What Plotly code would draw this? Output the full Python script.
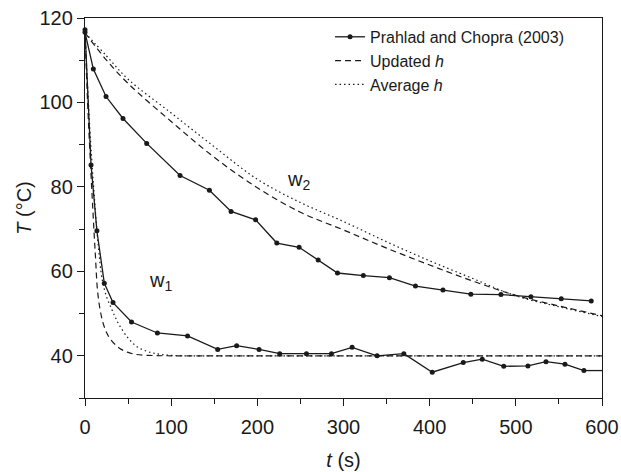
import plotly.graph_objects as go

# Experimental data (Prahlad and Chopra 2003)
t_w1 = [0, 7, 13.8, 22.4, 32.5, 54, 84, 119, 154, 176, 202, 226, 257, 286, 310, 339, 370, 403, 439, 461, 486, 514, 535, 557, 579]
T_w1 = [117.2, 85.2, 69.6, 57.2, 52.6, 48.0, 45.4, 44.7, 41.5, 42.4, 41.5, 40.5, 40.5, 40.5, 42.0, 40.0, 40.5, 36.1, 38.4, 39.2, 37.5, 37.6, 38.6, 38.0, 36.5]
t_w1_end = [579, 600]
T_w1_end = [36.5, 36.5]
t_w2 = [0, 9.7, 24.4, 44.1, 71.6, 110.3, 144.4, 169.5, 198, 222.6, 248.5, 270.6, 293, 323, 353.3, 383.5, 415.4, 447.8, 482.7, 517.5, 552.7, 587.5]
T_w2 = [116.6, 107.9, 101.4, 96.2, 90.3, 82.7, 79.2, 74.2, 72.2, 66.7, 65.7, 62.7, 59.6, 59.0, 58.5, 56.5, 55.6, 54.6, 54.5, 54.0, 53.5, 53.0]

# Updated h model curves
t_upd_w1 = [0, 3, 6, 9, 12, 15, 20, 25, 30, 40, 50, 60, 80, 100, 200, 300, 400, 500, 600]
T_upd_w1 = [116.5, 100, 87, 75, 64, 54.5, 48.5, 45.5, 43.8, 41.8, 40.8, 40.3, 40.05, 40, 40, 40, 40, 40, 40]
t_upd_w2 = [0, 25, 50, 100, 150, 200, 250, 300, 350, 400, 450, 500, 550, 600]
T_upd_w2 = [116.5, 110, 104.5, 95.5, 87, 79.8, 74, 69.8, 65.5, 61.5, 57.7, 54.3, 51.8, 49.5]

# Average h model curves
t_avg_w1 = [0, 5, 10, 15, 20, 25, 30, 35, 40, 50, 60, 70, 80, 100, 150, 200, 300, 400, 500, 600]
T_avg_w1 = [116.5, 96, 80, 67, 58, 54, 51.5, 49.2, 47.2, 44.2, 42.2, 41.2, 40.6, 40.1, 40, 40, 40, 40, 40, 40]
t_avg_w2 = [0, 25, 50, 100, 150, 200, 250, 300, 350, 400, 450, 500, 550, 600]
T_avg_w2 = [116.5, 111, 105.5, 97.5, 89.5, 81.8, 76.3, 71.8, 67, 62.5, 58.3, 54.2, 51.6, 49.3]

x_ticks = [0, 100, 200, 300, 400, 500, 600]
y_ticks = [40, 60, 80, 100, 120]

INK = "#1a1a1a"
FONT = "Liberation Sans, Arial, sans-serif"

fig = go.Figure()

exp_line = dict(color=INK, width=1.3)
fig.add_trace(go.Scatter(x=t_w1, y=T_w1, mode="lines+markers", name="Prahlad and Chopra (2003)",
                         legendgroup="exp", line=exp_line,
                         marker=dict(color=INK, size=5), cliponaxis=False))
fig.add_trace(go.Scatter(x=t_w1_end, y=T_w1_end, mode="lines", showlegend=False,
                         legendgroup="exp", line=exp_line, cliponaxis=False))
fig.add_trace(go.Scatter(x=t_w2, y=T_w2, mode="lines+markers", showlegend=False,
                         legendgroup="exp", line=exp_line,
                         marker=dict(color=INK, size=5), cliponaxis=False))
fig.add_trace(go.Scatter(x=t_upd_w1, y=T_upd_w1, mode="lines", name="Updated <i>h</i>",
                         legendgroup="upd", line=dict(color=INK, width=1.2, dash="6px,4px", shape="spline")))
fig.add_trace(go.Scatter(x=t_upd_w2, y=T_upd_w2, mode="lines", showlegend=False,
                         legendgroup="upd", line=dict(color=INK, width=1.2, dash="6px,4px", shape="spline")))
fig.add_trace(go.Scatter(x=t_avg_w1, y=T_avg_w1, mode="lines", name="Average <i>h</i>",
                         legendgroup="avg", line=dict(color=INK, width=1.2, dash="1.5px,3px", shape="spline")))
fig.add_trace(go.Scatter(x=t_avg_w2, y=T_avg_w2, mode="lines", showlegend=False,
                         legendgroup="avg", line=dict(color=INK, width=1.2, dash="1.5px,3px", shape="spline")))

fig.add_annotation(x=248, y=81.5, text="w<sub>2</sub>", showarrow=False,
                   font=dict(size=20, color=INK, family=FONT))
fig.add_annotation(x=88, y=57.5, text="w<sub>1</sub>", showarrow=False,
                   font=dict(size=20, color=INK, family=FONT))

axis_common = dict(showline=True, linecolor=INK, linewidth=1.3, mirror=True,
                   showgrid=False, zeroline=False, ticks="outside", ticklen=7,
                   tickwidth=1.2, tickcolor=INK, automargin=False,
                   ticklabeloverflow="allow",
                   tickfont=dict(size=20, color=INK, family=FONT))

fig.update_xaxes(range=[0, 600], tickvals=x_ticks, ticktext=[str(v) for v in x_ticks],
                 minor=dict(dtick=50, ticks="outside", ticklen=5, tickwidth=1.2, tickcolor=INK),
                 ticklabelstandoff=4,
                 title=dict(text="<i>t</i> (s)", font=dict(size=20, color=INK, family=FONT), standoff=15),
                 **axis_common)
fig.update_yaxes(range=[30, 120], tickvals=y_ticks, ticktext=[str(v) for v in y_ticks],
                 minor=dict(tick0=30, dtick=10, ticks="outside", ticklen=5, tickwidth=1.2, tickcolor=INK),
                 title=dict(text="<i>T</i> (°C)", font=dict(size=20, color=INK, family=FONT), standoff=2),
                 **axis_common)

fig.update_layout(width=621, height=472, margin=dict(l=85, r=19, t=18, b=74),
                  paper_bgcolor="white", plot_bgcolor="white",
                  font=dict(family=FONT, color=INK),
                  legend=dict(x=0.474, y=0.995, xanchor="left", yanchor="top",
                              bgcolor="rgba(0,0,0,0)", font=dict(size=16, color=INK, family=FONT),
                              tracegroupgap=0),
                  showlegend=True)

# Remove the default page margin so the figure fills the window exactly.
fig.write_html("out.html", config={"displayModeBar": False},
               post_script="document.body.style.margin='0px';document.documentElement.style.overflow='hidden';document.body.style.overflow='hidden';")
